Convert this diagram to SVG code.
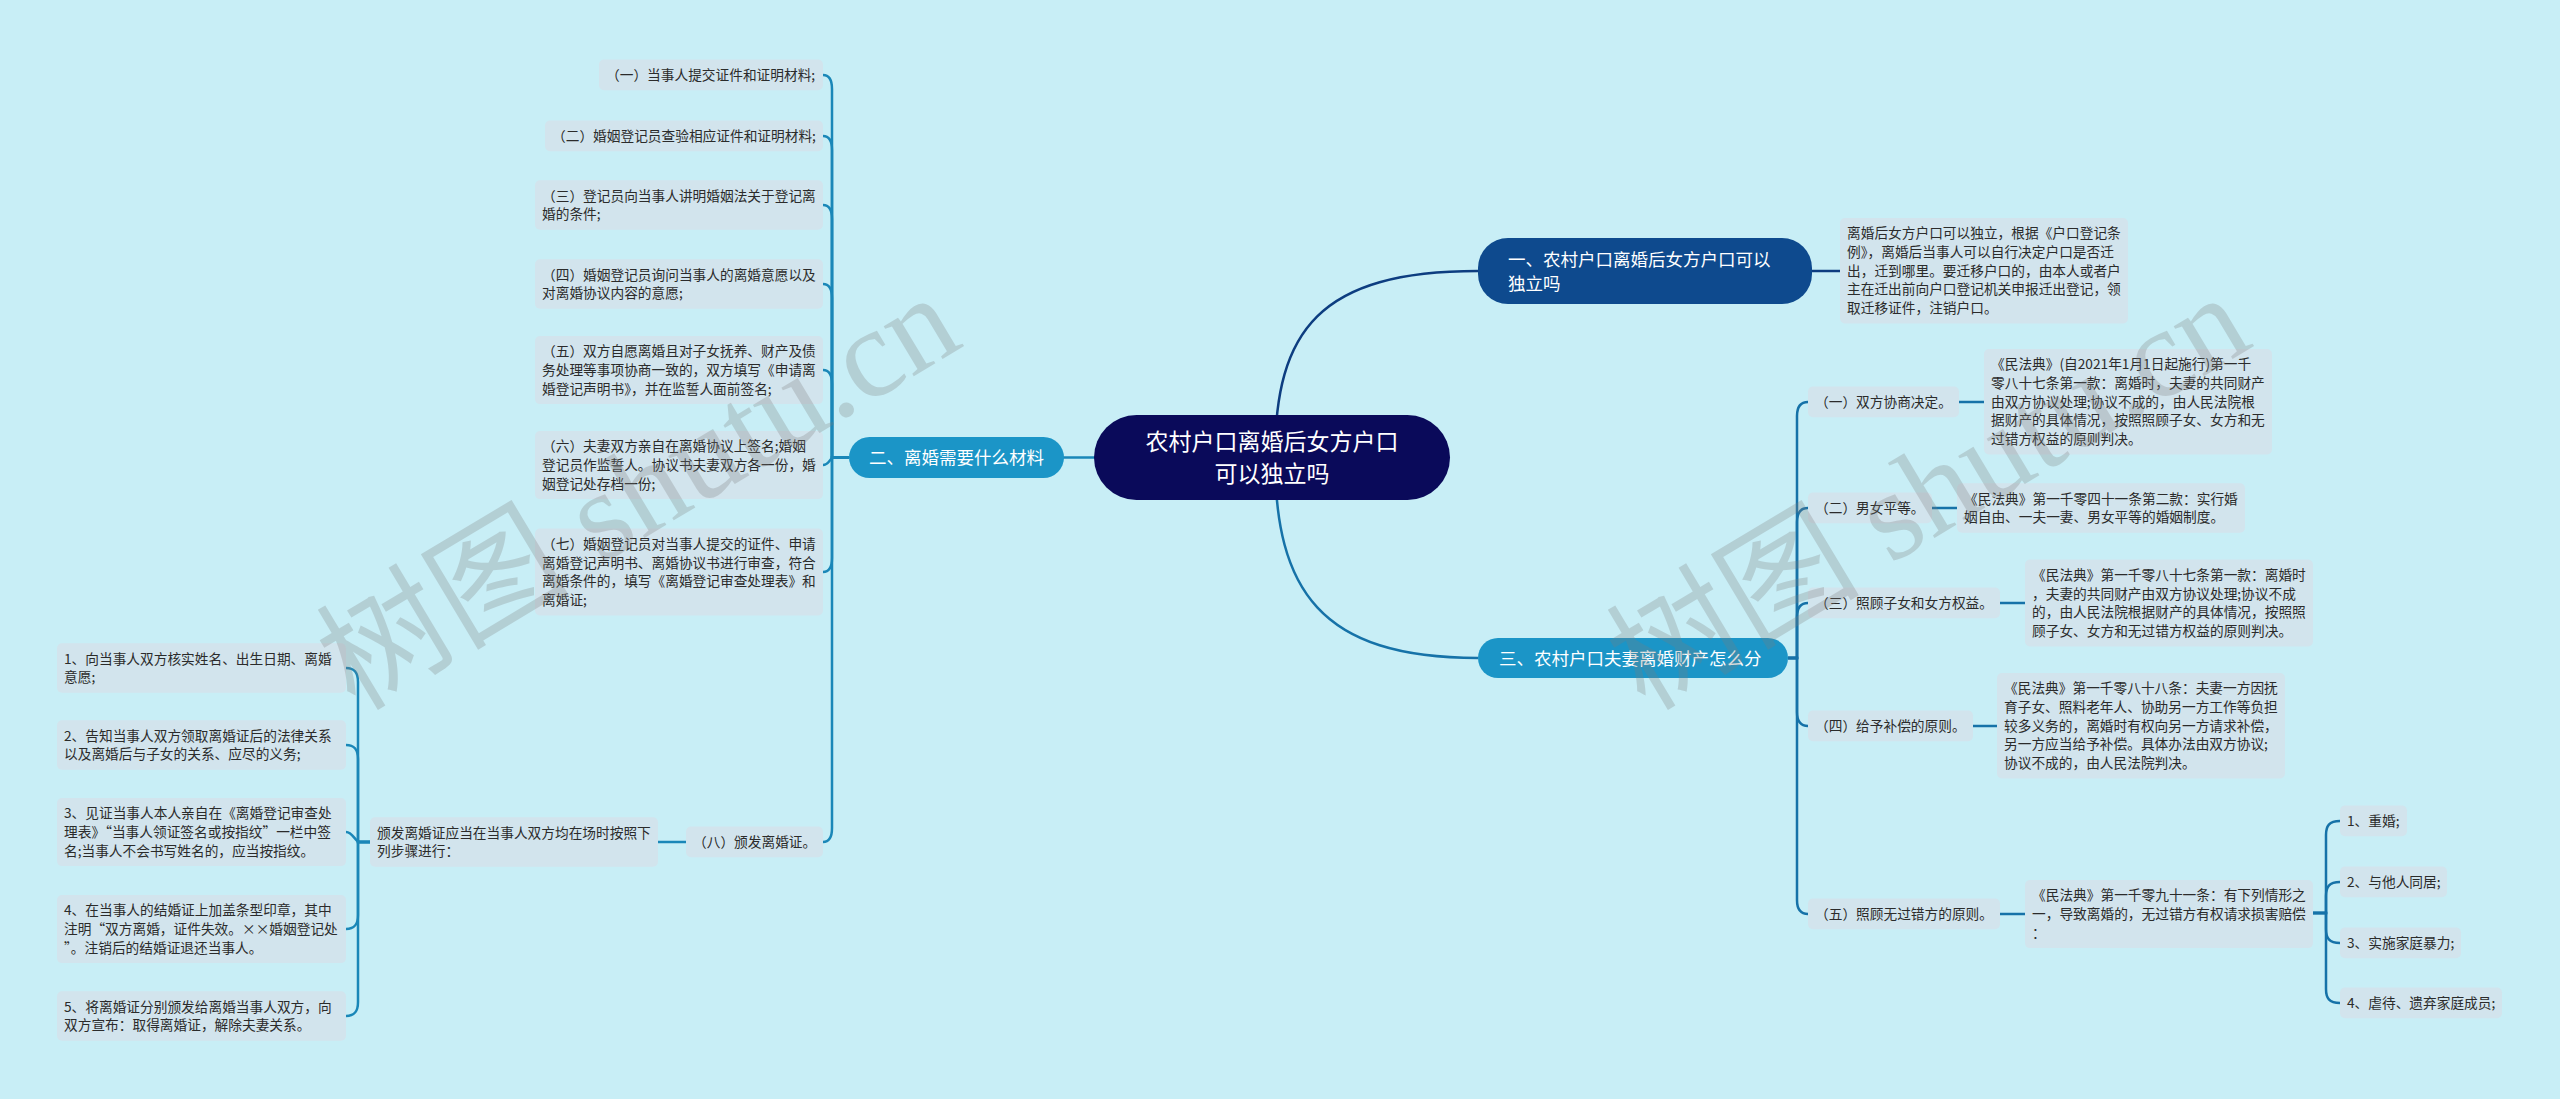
<svg xmlns="http://www.w3.org/2000/svg" width="2560" height="1099" viewBox="0 0 2560 1099">
<style>
.box{fill:#d2e4ed}
.t{font-family:"Noto Sans CJK SC","Noto Sans",sans-serif;font-size:13.7px;fill:#2b2b2b}
.tw{font-family:"Noto Sans CJK SC","Noto Sans",sans-serif;fill:#ffffff}
.cl{fill:none;stroke:#1a87b8;stroke-width:2.5}
.cr{fill:none;stroke:#1672a8;stroke-width:2.5}
.cn{fill:none;stroke:#0d3d80;stroke-width:2.5}
.wm{font-family:"Liberation Serif","Noto Sans CJK SC",serif;font-size:127px;fill:#7d7d7d;opacity:0.27}
</style>
<rect x="0" y="0" width="2560" height="1099" fill="#c8eef6"/>

<g id="connectors">
  <path class="cl" d="M1100,457.5 H1060"/>
  <path class="cn" d="M1275,457 C1275,330 1320,271 1478,271"/>
  <path class="cr" d="M1275,457 C1275,590 1320,658 1478,658"/>
  <path class="cl" d="M849,457.5 H832 V89 C832,80 829,75 823,75"/>
  <path class="cl" d="M849,457.5 H832 V150 C832,141 829,136 823,136"/>
  <path class="cl" d="M849,457.5 H832 V219 C832,210 829,205 823,205"/>
  <path class="cl" d="M849,457.5 H832 V298 C832,289 829,284 823,284"/>
  <path class="cl" d="M849,457.5 H832 V384 C832,375 829,370 823,370"/>
  <path class="cl" d="M849,457.5 H834 C830,457.5 829,465 823,465"/>
  <path class="cl" d="M849,457.5 H832 V558 C832,567 829,572 823,572"/>
  <path class="cl" d="M849,457.5 H832 V828 C832,837 829,842 823,842"/>
  <path class="cl" d="M686,842 H658"/>
  <path class="cl" d="M370,842 H358 V682 C358,673 355,668 346,668"/>
  <path class="cl" d="M370,842 H358 V759 C358,750 355,745 346,745"/>
  <path class="cl" d="M370,842 H360 C355,842 353,832 346,832"/>
  <path class="cl" d="M370,842 H358 V915 C358,924 355,929 346,929"/>
  <path class="cl" d="M370,842 H358 V1002 C358,1011 355,1016 346,1016"/>
  <path class="cn" d="M1812,271 H1840"/>
  <path class="cr" d="M1788,658 H1797 V416 C1797,407 1800,402 1808,402"/>
  <path class="cr" d="M1788,658 H1797 V522 C1797,513 1800,508 1808,508"/>
  <path class="cr" d="M1788,658 H1797 V617 C1797,608 1800,603 1808,603"/>
  <path class="cr" d="M1788,658 H1797 V712 C1797,721 1800,726 1808,726"/>
  <path class="cr" d="M1788,658 H1797 V900 C1797,909 1800,914 1808,914"/>
  <path class="cr" d="M1959,402 H1984"/>
  <path class="cr" d="M1932,508 H1957"/>
  <path class="cr" d="M2000,603 H2025"/>
  <path class="cr" d="M1973,726 H1997"/>
  <path class="cr" d="M2000,914 H2025"/>
  <path class="cr" d="M2313,913 H2326 V835 C2326,826 2329,821 2340,821"/>
  <path class="cr" d="M2313,913 H2326 V896 C2326,887 2329,882 2340,882"/>
  <path class="cr" d="M2313,913 H2326 V929 C2326,938 2329,943 2340,943"/>
  <path class="cr" d="M2313,913 H2326 V989 C2326,998 2329,1003 2340,1003"/>
</g>

<g id="root">
  <rect x="1094" y="415" width="356" height="85" rx="42.5" fill="#0a0a5a"/>
  <text class="tw" font-size="23" text-anchor="middle"><tspan x="1272" y="449.5">农村户口离婚后女方户口</tspan><tspan x="1272" y="481.5">可以独立吗</tspan></text>
</g>

<g id="b2">
  <rect x="849" y="437" width="215" height="41" rx="20.5" fill="#1b95c7"/>
  <text class="tw" font-size="17.5" x="869" y="464">二、离婚需要什么材料</text>
</g>

<g id="b2-1"><rect class="box" x="599" y="59.6" width="224" height="30.7" rx="5"/><text class="t" x="606" y="80">（一）当事人提交证件和证明材料;</text></g>
<g id="b2-2"><rect class="box" x="545" y="120.6" width="278" height="30.7" rx="5"/><text class="t" x="552" y="141">（二）婚姻登记员查验相应证件和证明材料;</text></g>
<g id="b2-3"><rect class="box" x="535" y="180.3" width="288" height="49.4" rx="5"/><text class="t"><tspan x="542" y="200.7">（三）登记员向当事人讲明婚姻法关于登记离</tspan><tspan x="542" y="219.4">婚的条件;</tspan></text></g>
<g id="b2-4"><rect class="box" x="535" y="259.3" width="288" height="49.4" rx="5"/><text class="t"><tspan x="542" y="279.6">（四）婚姻登记员询问当事人的离婚意愿以及</tspan><tspan x="542" y="298.3">对离婚协议内容的意愿;</tspan></text></g>
<g id="b2-5"><rect class="box" x="535" y="336" width="288" height="68.1" rx="5"/><text class="t"><tspan x="542" y="356.3">（五）双方自愿离婚且对子女抚养、财产及债</tspan><tspan x="542" y="375">务处理等事项协商一致的，双方填写《申请离</tspan><tspan x="542" y="393.7">婚登记声明书》，并在监誓人面前签名;</tspan></text></g>
<g id="b2-6"><rect class="box" x="535" y="431" width="288" height="68.1" rx="5"/><text class="t"><tspan x="542" y="451.3">（六）夫妻双方亲自在离婚协议上签名;婚姻</tspan><tspan x="542" y="470">登记员作监誓人。协议书夫妻双方各一份，婚</tspan><tspan x="542" y="488.7">姻登记处存档一份;</tspan></text></g>
<g id="b2-7"><rect class="box" x="535" y="528.6" width="288" height="86.8" rx="5"/><text class="t"><tspan x="542" y="548.9">（七）婚姻登记员对当事人提交的证件、申请</tspan><tspan x="542" y="567.6">离婚登记声明书、离婚协议书进行审查，符合</tspan><tspan x="542" y="586.3">离婚条件的，填写《离婚登记审查处理表》和</tspan><tspan x="542" y="605">离婚证;</tspan></text></g>
<g id="b2-8"><rect class="box" x="686" y="826.6" width="137" height="30.7" rx="5"/><text class="t" x="693" y="847">（八）颁发离婚证。</text></g>
<g id="b2-8-1"><rect class="box" x="370" y="817.3" width="288" height="49.4" rx="5"/><text class="t"><tspan x="377" y="837.6">颁发离婚证应当在当事人双方均在场时按照下</tspan><tspan x="377" y="856.3">列步骤进行：</tspan></text></g>
<g id="s1"><rect class="box" x="57" y="643.3" width="289" height="49.4" rx="5"/><text class="t"><tspan x="64" y="663.6">1、向当事人双方核实姓名、出生日期、离婚</tspan><tspan x="64" y="682.3">意愿;</tspan></text></g>
<g id="s2"><rect class="box" x="57" y="720.3" width="289" height="49.4" rx="5"/><text class="t"><tspan x="64" y="740.6">2、告知当事人双方领取离婚证后的法律关系</tspan><tspan x="64" y="759.3">以及离婚后与子女的关系、应尽的义务;</tspan></text></g>
<g id="s3"><rect class="box" x="57" y="798" width="289" height="68.1" rx="5"/><text class="t"><tspan x="64" y="818.3">3、见证当事人本人亲自在《离婚登记审查处</tspan><tspan x="64" y="837">理表》“当事人领证签名或按指纹”一栏中签</tspan><tspan x="64" y="855.7">名;当事人不会书写姓名的，应当按指纹。</tspan></text></g>
<g id="s4"><rect class="box" x="57" y="895" width="289" height="68.1" rx="5"/><text class="t"><tspan x="64" y="915.3">4、在当事人的结婚证上加盖条型印章，其中</tspan><tspan x="64" y="934">注明“双方离婚，证件失效。××婚姻登记处</tspan><tspan x="64" y="952.7">”。注销后的结婚证退还当事人。</tspan></text></g>
<g id="s5"><rect class="box" x="57" y="991.3" width="289" height="49.4" rx="5"/><text class="t"><tspan x="64" y="1011.6">5、将离婚证分别颁发给离婚当事人双方，向</tspan><tspan x="64" y="1030.3">双方宣布：取得离婚证，解除夫妻关系。</tspan></text></g>

<g id="b1">
  <rect x="1478" y="238" width="334" height="66" rx="30" fill="#0e4a8e"/>
  <text class="tw" font-size="17.5"><tspan x="1508" y="265.5">一、农村户口离婚后女方户口可以</tspan><tspan x="1508" y="289.5">独立吗</tspan></text>
</g>
<g id="b1-1"><rect class="box" x="1840" y="218" width="288" height="105.5" rx="5"/><text class="t"><tspan x="1847" y="238.3">离婚后女方户口可以独立，根据《户口登记条</tspan><tspan x="1847" y="257">例》，离婚后当事人可以自行决定户口是否迁</tspan><tspan x="1847" y="275.7">出，迁到哪里。要迁移户口的，由本人或者户</tspan><tspan x="1847" y="294.4">主在迁出前向户口登记机关申报迁出登记，领</tspan><tspan x="1847" y="313.1">取迁移证件，注销户口。</tspan></text></g>

<g id="b3">
  <rect x="1478" y="638" width="310" height="40" rx="20" fill="#1b95c7"/>
  <text class="tw" font-size="17.5" x="1499" y="664.5">三、农村户口夫妻离婚财产怎么分</text>
</g>
<g id="b3-1"><rect class="box" x="1808" y="386.6" width="151" height="30.7" rx="5"/><text class="t" x="1815" y="407">（一）双方协商决定。</text></g>
<g id="b3-1d"><rect class="box" x="1984" y="349" width="288" height="105.5" rx="5"/><text class="t"><tspan x="1991" y="369.3">《民法典》(自2021年1月1日起施行)第一千</tspan><tspan x="1991" y="388">零八十七条第一款：离婚时，夫妻的共同财产</tspan><tspan x="1991" y="406.7">由双方协议处理;协议不成的，由人民法院根</tspan><tspan x="1991" y="425.4">据财产的具体情况，按照照顾子女、女方和无</tspan><tspan x="1991" y="444.1">过错方权益的原则判决。</tspan></text></g>
<g id="b3-2"><rect class="box" x="1808" y="492.6" width="124" height="30.7" rx="5"/><text class="t" x="1815" y="513">（二）男女平等。</text></g>
<g id="b3-2d"><rect class="box" x="1957" y="483.3" width="288" height="49.4" rx="5"/><text class="t"><tspan x="1964" y="503.6">《民法典》第一千零四十一条第二款：实行婚</tspan><tspan x="1964" y="522.3">姻自由、一夫一妻、男女平等的婚姻制度。</tspan></text></g>
<g id="b3-3"><rect class="box" x="1808" y="587.6" width="192" height="30.7" rx="5"/><text class="t" x="1815" y="608">（三）照顾子女和女方权益。</text></g>
<g id="b3-3d"><rect class="box" x="2025" y="559.6" width="288" height="86.8" rx="5"/><text class="t"><tspan x="2032" y="579.9">《民法典》第一千零八十七条第一款：离婚时</tspan><tspan x="2032" y="598.6">，夫妻的共同财产由双方协议处理;协议不成</tspan><tspan x="2032" y="617.3">的，由人民法院根据财产的具体情况，按照照</tspan><tspan x="2032" y="636">顾子女、女方和无过错方权益的原则判决。</tspan></text></g>
<g id="b3-4"><rect class="box" x="1808" y="710.6" width="165" height="30.7" rx="5"/><text class="t" x="1815" y="731">（四）给予补偿的原则。</text></g>
<g id="b3-4d"><rect class="box" x="1997" y="673" width="288" height="105.5" rx="5"/><text class="t"><tspan x="2004" y="693.3">《民法典》第一千零八十八条：夫妻一方因抚</tspan><tspan x="2004" y="712">育子女、照料老年人、协助另一方工作等负担</tspan><tspan x="2004" y="730.7">较多义务的，离婚时有权向另一方请求补偿，</tspan><tspan x="2004" y="749.4">另一方应当给予补偿。具体办法由双方协议;</tspan><tspan x="2004" y="768.1">协议不成的，由人民法院判决。</tspan></text></g>
<g id="b3-5"><rect class="box" x="1808" y="898.6" width="192" height="30.7" rx="5"/><text class="t" x="1815" y="919">（五）照顾无过错方的原则。</text></g>
<g id="b3-5d"><rect class="box" x="2025" y="880" width="288" height="68.1" rx="5"/><text class="t"><tspan x="2032" y="900.3">《民法典》第一千零九十一条：有下列情形之</tspan><tspan x="2032" y="919">一，导致离婚的，无过错方有权请求损害赔偿</tspan><tspan x="2032" y="937.7">：</tspan></text></g>
<g id="c1"><rect class="box" x="2340" y="805.6" width="67" height="30.7" rx="5"/><text class="t" x="2347" y="826">1、重婚;</text></g>
<g id="c2"><rect class="box" x="2340" y="866.6" width="107" height="30.7" rx="5"/><text class="t" x="2347" y="887">2、与他人同居;</text></g>
<g id="c3"><rect class="box" x="2340" y="927.6" width="121" height="30.7" rx="5"/><text class="t" x="2347" y="948">3、实施家庭暴力;</text></g>
<g id="c4"><rect class="box" x="2340" y="987.6" width="162" height="30.7" rx="5"/><text class="t" x="2347" y="1008">4、虐待、遗弃家庭成员;</text></g>

<g id="watermark">
  <text class="wm" x="355" y="712" transform="rotate(-31 355 712)">树图 shutu.cn</text>
  <text class="wm" x="1645" y="712" transform="rotate(-31 1645 712)">树图 shutu.cn</text>
</g>
</svg>
